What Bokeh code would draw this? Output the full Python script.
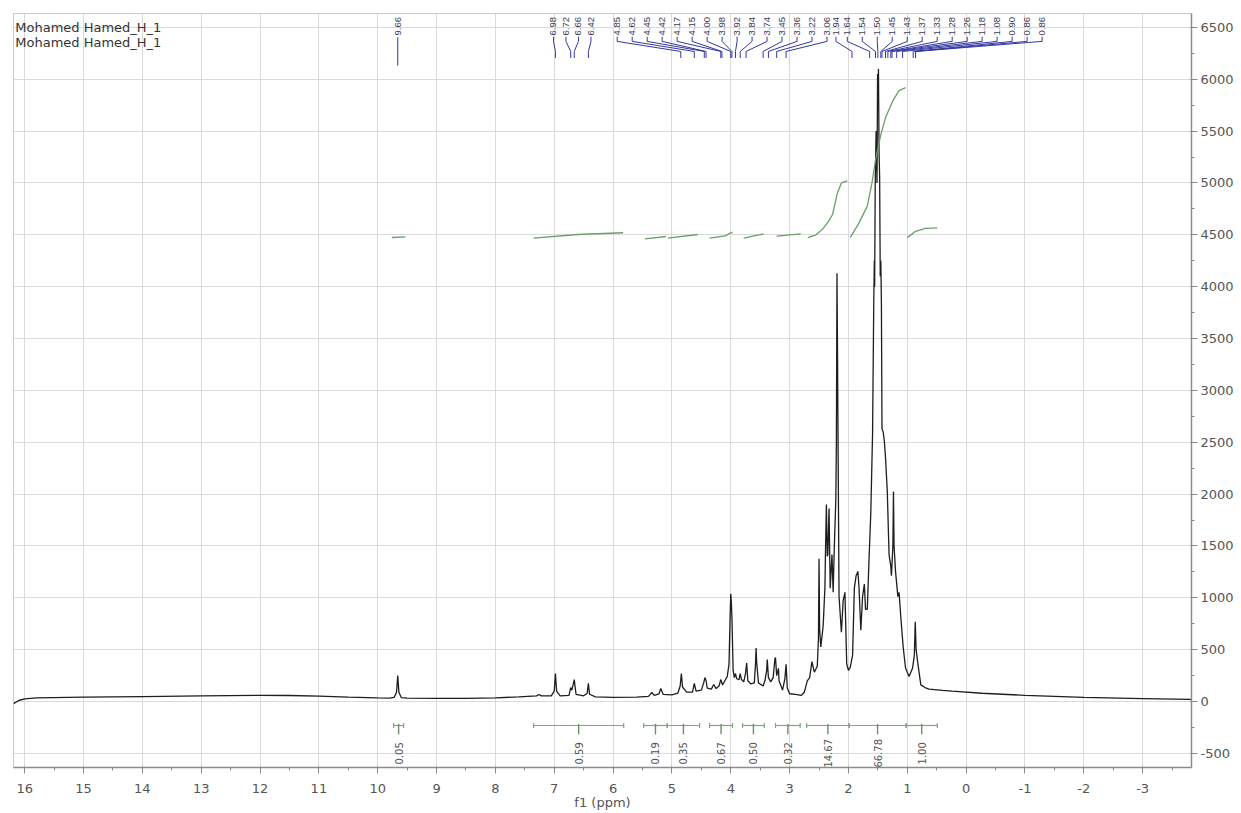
import numpy as np
from bokeh.plotting import figure
from bokeh.models import Range1d, SingleIntervalTicker
from bokeh.core.properties import value
from bokeh.embed import file_html
from bokeh.resources import INLINE

# ---------------- data ----------------
title_lines = ["Mohamed Hamed_H_1", "Mohamed Hamed_H_1"]

spec_ppm = [16.19, 16.10, 16.00, 15.80, 15.0, 14.0, 13.0, 12.0, 11.5, 11.0, 10.5, 10.0,
            9.80, 9.72, 9.68, 9.66, 9.64, 9.60, 9.50, 9.0, 8.5, 8.0, 7.6, 7.30, 7.26, 7.22,
            7.05, 7.00, 6.98, 6.96, 6.90, 6.75, 6.72, 6.70, 6.66, 6.63, 6.50, 6.44, 6.42, 6.40,
            6.30, 6.0, 5.6, 5.40, 5.34, 5.30, 5.22, 5.19, 5.15, 5.00, 4.90, 4.86, 4.84, 4.82,
            4.75, 4.65, 4.62, 4.59, 4.50, 4.46, 4.44, 4.42, 4.40, 4.33, 4.29, 4.25, 4.20, 4.17,
            4.14, 4.10, 4.06, 4.03, 4.01, 4.00, 3.99, 3.98, 3.96, 3.94, 3.92, 3.90, 3.86, 3.84,
            3.82, 3.78, 3.75, 3.73, 3.71, 3.66, 3.60, 3.58, 3.57, 3.56, 3.53, 3.45, 3.42, 3.39,
            3.38, 3.36, 3.32, 3.28, 3.25, 3.24, 3.22, 3.19, 3.18, 3.12, 3.08, 3.06, 3.04, 3.00,
            2.90, 2.80, 2.75, 2.70, 2.66, 2.62, 2.58, 2.53, 2.51, 2.50, 2.49, 2.47, 2.43, 2.40,
            2.39, 2.375, 2.36, 2.35, 2.33, 2.31, 2.28, 2.26, 2.24, 2.215, 2.205, 2.195, 2.185,
            2.18, 2.16, 2.12, 2.09, 2.06, 2.03, 2.00, 1.97, 1.93, 1.90, 1.87, 1.84, 1.82, 1.79,
            1.76, 1.73, 1.71, 1.68, 1.65, 1.62, 1.59, 1.57, 1.56, 1.555, 1.545, 1.53, 1.515,
            1.505, 1.495, 1.49, 1.48, 1.47, 1.46, 1.45, 1.44, 1.43, 1.41, 1.39, 1.37, 1.34,
            1.31, 1.28, 1.27, 1.245, 1.235, 1.225, 1.20, 1.16, 1.14, 1.11, 1.07, 1.03, 0.97,
            0.91, 0.88, 0.865, 0.85, 0.82, 0.77, 0.70, 0.63, 0.40, 0.24, -0.27, -1.0, -2.0,
            -3.0, -3.83]
spec_int = [-20, 10, 25, 35, 42, 48, 55, 60, 58, 52, 42, 35,
            33, 40, 90, 250, 90, 38, 32, 30, 30, 35, 45, 55, 68, 55,
            55, 100, 270, 100, 55, 60, 135, 110, 212, 70, 55, 80, 175, 70,
            45, 40, 42, 50, 87, 60, 75, 125, 70, 65, 80, 150, 270, 140,
            90, 90, 174, 100, 110, 180, 231, 203, 130, 120, 164, 125, 150, 212,
            160, 200, 240, 360, 850, 1040, 950, 800, 300, 230, 270, 220, 210, 270,
            215, 190, 270, 370, 200, 170, 180, 360, 515, 380, 180, 150, 200, 300,
            405, 230, 190, 230, 410, 425, 250, 320, 200, 110, 220, 360, 130, 75,
            70, 60, 90, 200, 230, 384, 283, 340, 600, 1376, 700, 526, 728, 1100,
            1457, 1900, 1400, 1417, 1861, 1093, 1417, 1053, 1498, 1943, 2500, 4130, 3300,
            2793, 1012, 668, 972, 1053, 364, 300, 330, 445, 1093, 1214, 1255, 1093, 688,
            1012, 1133, 890, 890, 1376, 1821, 2591, 3850, 4250, 4000, 5000, 5500, 5000,
            6050, 5900, 6100, 5300, 5060, 4100, 4250, 3850, 2630, 2600, 2510, 2350, 2024,
            1417, 1300, 1214, 1500, 2024, 1500, 1255, 1012, 1053, 810, 526, 323, 242,
            323, 450, 769, 500, 364, 161, 135, 120, 108, 100, 80, 60, 40,
            28, 20]

# integral curves (green), one list per region
integ_ppm = [[9.76, 9.53],
             [7.35, 6.60, 5.83],
             [5.46, 5.10],
             [5.07, 4.56],
             [4.36, 4.10, 3.97],
             [3.78, 3.44],
             [3.22, 2.81],
             [2.69, 2.55, 2.44, 2.35, 2.27, 2.19, 2.12, 2.02],
             [1.97, 1.82, 1.68, 1.60, 1.54, 1.45, 1.37, 1.25, 1.14, 1.03],
             [1.00, 0.86, 0.69, 0.49]]
integ_val = [[4474, 4480],
             [4468, 4503, 4520],
             [4461, 4484],
             [4468, 4503],
             [4468, 4490, 4526],
             [4468, 4510],
             [4487, 4510],
             [4473, 4500, 4555, 4620, 4696, 4899, 5000, 5020],
             [4473, 4615, 4777, 5000, 5223, 5466, 5628, 5789, 5891, 5919],
             [4473, 4534, 4563, 4567]]

# integration ranges and their values
int_from = [9.73, 7.35, 5.48, 5.08, 4.36, 3.80, 3.24, 2.71, 1.99, 1.02]
int_to = [9.56, 5.82, 5.08, 4.53, 3.97, 3.43, 2.82, 1.99, 1.02, 0.49]
int_text = ["0.05", "0.59", "0.19", "0.35", "0.67", "0.50", "0.32", "14.67", "66.78", "1.00"]

# picked peaks (label groups)
pk_g1 = [9.66]
pk_g2 = [6.98, 6.72, 6.66, 6.42]
pk_g3 = [4.85, 4.62, 4.45, 4.42, 4.17, 4.15, 4.00, 3.98, 3.92, 3.84, 3.74, 3.45, 3.36, 3.22, 3.06]
pk_x1 = [1.94]
pk_g4 = [1.64, 1.54, 1.50, 1.45, 1.43, 1.37, 1.33, 1.28, 1.26, 1.18, 1.08, 0.90, 0.86, 0.86]

x_ticks_neg = [-1, -2, -3]
y_ticks_neg = [-500]

# ---------------- figure ----------------
FONT = "DejaVu Sans"
p = figure(width=1241, height=813,
           x_range=Range1d(16.19, -3.83), y_range=Range1d(-636, 6634),
           y_axis_location="right", output_backend="svg", toolbar_location=None,
           min_border_left=13, min_border_right=50, min_border_top=13, min_border_bottom=46)
p.background_fill_color = "white"
p.border_fill_color = "white"
p.outline_line_color = "#c8c8c8"

xt = SingleIntervalTicker(interval=1, num_minor_ticks=2)
yt = SingleIntervalTicker(interval=500, num_minor_ticks=2)
p.xaxis.ticker = xt
p.yaxis.ticker = yt
p.xgrid.ticker = xt
p.ygrid.ticker = yt
for g in (p.xgrid, p.ygrid):
    g.grid_line_color = "#dadada"
    g.grid_line_width = 1

for ax in (p.xaxis, p.yaxis):
    ax.axis_line_color = "#8a8a8a"
    ax.axis_line_width = 1.5
    ax.major_tick_line_color = "#8a8a8a"
    ax.minor_tick_line_color = "#8a8a8a"
    ax.major_tick_in = 1
    ax.major_tick_out = 6
    ax.minor_tick_in = 0
    ax.minor_tick_out = 3
    ax.major_label_text_font = FONT
    ax.major_label_text_font_size = "13px"
    ax.major_label_text_color = "#555555"
    ax.major_label_standoff = 3

p.xaxis.major_label_overrides = {v: f"{v}" for v in x_ticks_neg}
p.yaxis.major_label_overrides = {v: f"{v}" for v in y_ticks_neg}
p.xaxis.major_label_standoff = 10

p.xaxis.axis_label = "f1 (ppm)"
p.xaxis.axis_label_text_font = FONT
p.xaxis.axis_label_text_font_size = "13px"
p.xaxis.axis_label_text_font_style = "normal"
p.xaxis.axis_label_text_color = "#555555"
p.xaxis.axis_label_standoff = -1

# spectrum
p.line(spec_ppm, spec_int, line_color="#1e1e1e", line_width=1.3)

# integral curves
p.multi_line(integ_ppm, integ_val, line_color="#6a9f6a", line_width=1.3)

# integral bars
BAR_Y = -231
mid = [(a + b) / 2 for a, b in zip(int_from, int_to)]
p.segment(x0=int_from, y0=[BAR_Y] * len(int_from), x1=int_to, y1=[BAR_Y] * len(int_to),
          line_color="#7aab7a", line_width=1.2)
ends = int_from + int_to
p.segment(x0=ends, y0=[BAR_Y + 25] * len(ends), x1=ends, y1=[BAR_Y - 25] * len(ends),
          line_color="#7aab7a", line_width=1.2)
p.segment(x0=mid, y0=[BAR_Y + 15] * len(mid), x1=mid, y1=[BAR_Y - 85] * len(mid),
          line_color="#6a8f6a", line_width=1.4)
p.text(x=mid, y=[-499] * len(mid), text=int_text, angle=np.pi / 2,
       text_align="center", text_baseline="middle",
       text_font=value(FONT), text_font_size="10px", text_color="#555555")

# peak labels
LBL_Y = 6422
PPM_PER_PX = 1 / 58.9
lbl_x, lbl_t, con_x, con_y = [], [], [], []


def add(peaks, xs, straight=False):
    for pk, lx in zip(peaks, xs):
        lbl_x.append(lx)
        lbl_t.append(f"{pk:.2f}")
        if straight:
            con_x.append([lx, lx])
            con_y.append([6405, 6133])
        else:
            con_x.append([lx, lx, pk, pk])
            con_y.append([6410, 6365, 6268, 6205])


add(pk_g1, pk_g1, straight=True)
step2 = 12.5 * PPM_PER_PX
c2 = sum(pk_g2) / len(pk_g2)
add(pk_g2, [c2 + (1.5 - i) * step2 for i in range(len(pk_g2))])
step = 15 * PPM_PER_PX
g3_start = 5.93
add(pk_g3, [g3_start - i * step for i in range(len(pk_g3))])
add(pk_x1, [g3_start - (len(pk_g3) - 1) * step - 9 * PPM_PER_PX])
g4_start = 2.02
add(pk_g4, [g4_start - i * step for i in range(len(pk_g4))])

p.multi_line(con_x, con_y, line_color="#3438a0", line_width=1)
p.text(x=lbl_x, y=[LBL_Y] * len(lbl_x), text=lbl_t, angle=np.pi / 2,
       text_align="left", text_baseline="middle",
       text_font=value("Liberation Sans"), text_font_size="9.5px", text_color="#3a3a58")

# title lines (top-left)
p.text(x=[16.16, 16.16], y=[6495, 6350], text=title_lines,
       text_align="left", text_baseline="alphabetic",
       text_font=value(FONT), text_font_size="13px", text_color="#333333")

open("out.html", "w").write(file_html(p, INLINE))
